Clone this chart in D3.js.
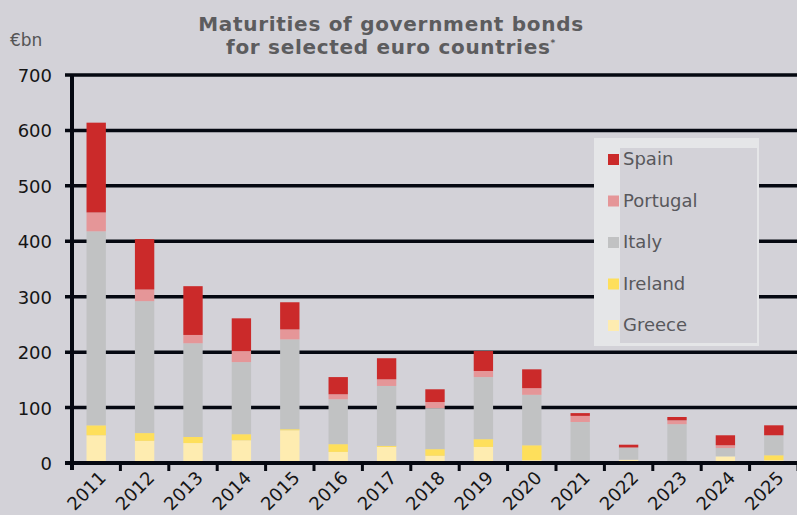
<!DOCTYPE html>
<html>
<head>
<meta charset="utf-8">
<script src="https://cdn.jsdelivr.net/npm/d3@7"></script>
<style>
  html, body { margin: 0; padding: 0; background: #d3d2d8; }
  svg { display: block; font-family: "DejaVu Sans", Verdana, sans-serif; }
</style>
</head>
<body>
<div id="chart"></div>
<script>
// Maturities of government bonds, €bn, stacked by country (bottom → top)
const years = ["2011", "2012", "2013", "2014", "2015", "2016", "2017", "2018",
  "2019", "2020", "2021", "2022", "2023", "2024", "2025"];
const greece   = [50, 40, 36, 41, 59, 20, 29, 13, 29, 5, 0, 6, 0, 12, 5];
const ireland  = [18, 14, 11, 11, 2, 14, 2, 12, 14, 27, 0, 0, 0, 0, 9];
const italy    = [350, 238, 169, 130, 162, 81, 108, 74, 112, 91, 74, 22, 70, 15, 36];
const portugal = [34, 21, 15, 20, 18, 9, 12, 11, 11, 12, 11, 0, 7, 5, 0];
const spain    = [162, 91, 88, 59, 49, 31, 38, 23, 36, 34, 5, 5, 6, 18, 18];
const yTicks = [0, 100, 200, 300, 400, 500, 600, 700];

const series = [
  { name: "Greece", values: greece, color: "#feecb0" },
  { name: "Ireland", values: ireland, color: "#fedf5b" },
  { name: "Italy", values: italy, color: "#c1c2c3" },
  { name: "Portugal", values: portugal, color: "#e59698" },
  { name: "Spain", values: spain, color: "#cb2a2a" },
];

const width = 797, height = 515;
const svg = d3.select("#chart").append("svg")
  .attr("width", width).attr("height", height);

svg.append("rect").attr("width", width).attr("height", height).attr("fill", "#d3d2d8");

const x = d3.scaleBand().domain(years).range([72, 798]).paddingInner(0.6).paddingOuter(0.3);
const y = d3.scaleLinear().domain([0, 700]).range([463, 75]);

// Title
const title = svg.append("text")
  .attr("text-anchor", "middle")
  .attr("fill", "#5c5c5e").attr("font-weight", "bold").attr("font-size", 20)
  .attr("letter-spacing", 0.7);
title.append("tspan").attr("x", 391).attr("y", 31).text("Maturities of government bonds");
title.append("tspan").attr("x", 391).attr("y", 54).text("for selected euro countries");
title.append("tspan").attr("font-size", 9).attr("dy", -8).text("*");

svg.append("text").attr("x", 10).attr("y", 46)
  .attr("fill", "#555").attr("font-size", 17).text("€bn");

// Gridlines + y tick labels
svg.append("g").selectAll("line").data(yTicks).join("line")
  .attr("x1", 65).attr("x2", width)
  .attr("y1", d => y(d)).attr("y2", d => y(d))
  .attr("stroke", "#050811").attr("stroke-width", 3.5);

svg.append("g").selectAll("text").data(yTicks).join("text")
  .attr("x", 52).attr("y", d => y(d) + 7)
  .attr("text-anchor", "end").attr("font-size", 18).attr("fill", "#151515")
  .text(d => d);

// Stacked bars
const rows = years.map((yr, i) => {
  const r = { year: yr };
  series.forEach(s => { r[s.name] = s.values[i]; });
  return r;
});
const stack = d3.stack().keys(series.map(s => s.name))(rows);

svg.append("g").selectAll("g").data(stack).join("g")
  .attr("fill", (d, i) => series[i].color)
  .selectAll("rect").data(d => d).join("rect")
  .attr("x", d => x(d.data.year))
  .attr("width", x.bandwidth())
  .attr("y", d => y(d[1]))
  .attr("height", d => y(d[0]) - y(d[1]));

// Axes lines
svg.append("line").attr("x1", 72).attr("x2", 72).attr("y1", 75).attr("y2", 470)
  .attr("stroke", "#050811").attr("stroke-width", 4);
svg.append("line").attr("x1", 65).attr("x2", width).attr("y1", y(0)).attr("y2", y(0))
  .attr("stroke", "#050811").attr("stroke-width", 4);

// Category boundary ticks
const step = x.step();
svg.append("g").selectAll("line").data(years).join("line")
  .attr("x1", (d, i) => 72 + (i + 1) * step).attr("x2", (d, i) => 72 + (i + 1) * step)
  .attr("y1", y(0)).attr("y2", 471)
  .attr("stroke", "#050811").attr("stroke-width", 3);

// Rotated year labels
svg.append("g").selectAll("text").data(years).join("text")
  .attr("transform", d => `translate(${x(d) + x.bandwidth() / 2 + 11},479) rotate(-45)`)
  .attr("text-anchor", "end").attr("font-size", 18).attr("fill", "#151515")
  .text(d => d);

// Legend
const lg = svg.append("g");
lg.append("rect").attr("x", 594).attr("y", 138).attr("width", 165).attr("height", 208)
  .attr("fill", "#e5e6e8");
lg.append("rect").attr("x", 620).attr("y", 148).attr("width", 137).attr("height", 195)
  .attr("fill", "#d3d2d8");
const legendItems = series.slice().reverse();
const li = lg.selectAll("g").data(legendItems).join("g")
  .attr("transform", (d, i) => `translate(608,${165 + i * 41.5})`);
li.append("rect").attr("x", 0).attr("y", -11).attr("width", 11).attr("height", 11)
  .attr("fill", d => d.color);
li.append("text").attr("x", 15).attr("y", 0)
  .attr("font-size", 18).attr("fill", "#58585c").text(d => d.name);
</script>
</body>
</html>
